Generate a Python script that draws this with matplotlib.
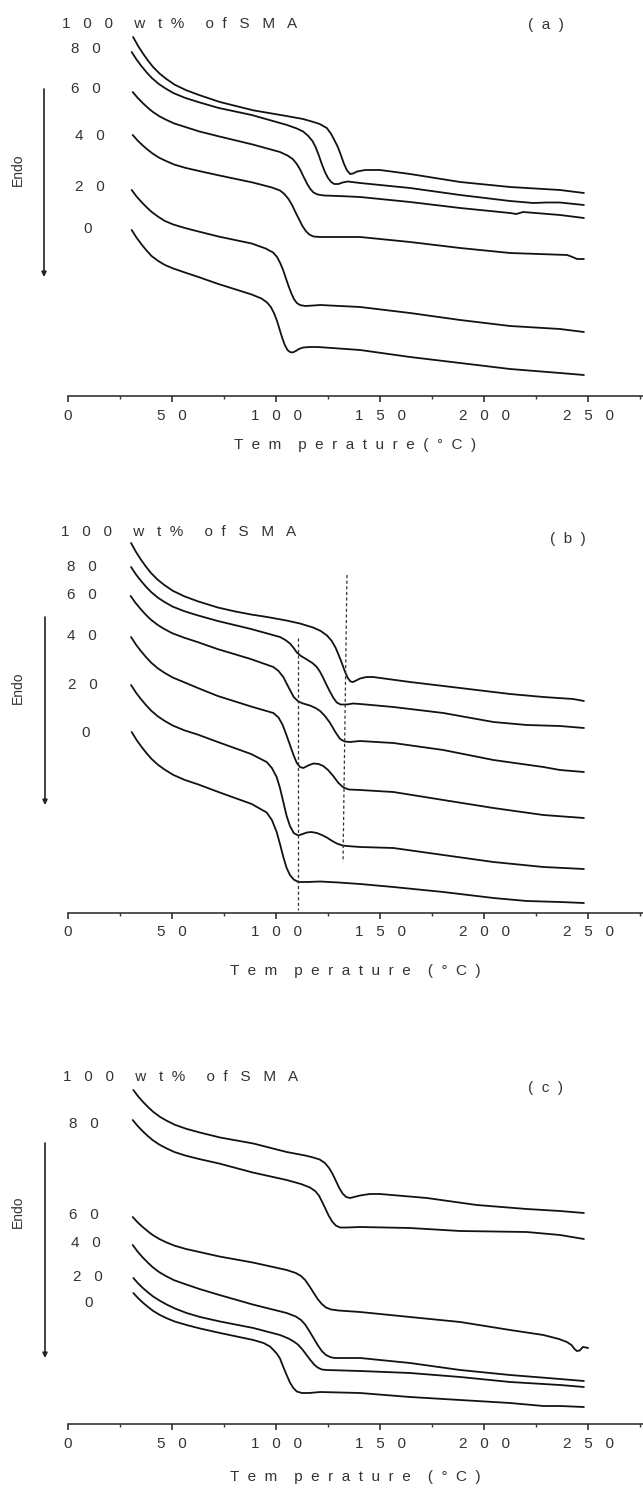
import matplotlib
matplotlib.use("Agg")
import matplotlib.pyplot as plt
from matplotlib.ticker import FixedLocator, MultipleLocator
from matplotlib.patches import FancyArrowPatch

plt.rcParams['font.family'] = ['Liberation Sans', 'DejaVu Sans']

# ---------------- data (temperature in deg C, heat flow in arbitrary units) ----------------
xtick_values = [0, 50, 100, 150, 200, 250]
xtick_labels = ['0', '5   0', '1   0   0', '1   5   0', '2   0   0', '2   5   0']
curve_labels = ['8   0', '6   0', '4   0', '2   0', '0']
title_text = '1   0   0     w   t  %     o  f   S   M   A'

# panel (a)
Ta100 = [31.3, 33.7, 36.1, 38.5, 40.9, 44.1, 47.3, 51.3, 56.9, 63.4, 73.0, 89.0, 105, 113, 118, 121, 124.4, 126.5, 128, 129.5, 131, 132.5, 134, 135.6, 137, 139, 142.8, 150, 164.4, 188.5, 212.5, 236.5, 248]
Ya100 = [35.9, 35.0, 34.23, 33.53, 32.9, 32.23, 31.7, 31.13, 30.57, 30.07, 29.4, 28.57, 28.0, 27.7, 27.4, 27.2, 26.8, 26.2, 25.6, 25.0, 24.2, 23.3, 22.6, 22.2, 22.25, 22.45, 22.6, 22.6, 22.2, 21.4, 20.9, 20.6, 20.3]
Ta80 = [30.6, 33.0, 35.4, 37.8, 40.2, 43.4, 46.6, 50.6, 56.2, 62.7, 72.3, 88.3, 105.3, 110, 113, 115.5, 117.5, 119, 120.5, 122, 123.5, 125, 126.5, 128, 130, 132, 134.5, 140.4, 164.4, 188.5, 212.5, 223.6, 230, 236.5, 248]
Ya80 = [34.4, 33.63, 32.96, 32.36, 31.82, 31.24, 30.79, 30.3, 29.82, 29.39, 28.81, 28.1, 27.1, 26.75, 26.45, 26.0, 25.5, 24.9, 24.1, 23.2, 22.4, 21.8, 21.4, 21.2, 21.2, 21.35, 21.45, 21.3, 20.8, 20.1, 19.5, 19.3, 19.35, 19.35, 19.1]
Ta60 = [31.1, 33.5, 35.9, 38.3, 40.7, 43.9, 47.1, 51.1, 56.7, 63.2, 72.8, 88.8, 101.9, 105.5, 108, 110, 111.7, 113.3, 115, 116.5, 118, 120, 123, 130, 140.4, 164.4, 188.5, 212.5, 215.5, 218.8, 236.5, 248]
Ya60 = [30.4, 29.81, 29.3, 28.84, 28.42, 27.98, 27.63, 27.25, 26.88, 26.45, 25.95, 25.15, 24.4, 24.05, 23.7, 23.2, 22.6, 21.9, 21.2, 20.7, 20.35, 20.15, 20.05, 20.0, 19.9, 19.4, 18.8, 18.3, 18.2, 18.4, 18.1, 17.8]
Ta40 = [31.1, 33.5, 35.9, 38.3, 40.7, 43.9, 47.1, 51.1, 56.7, 63.2, 72.8, 88.8, 98, 101.9, 104, 106, 107.7, 109.3, 111, 112.7, 114.3, 116, 118, 121.2, 130, 140.4, 164.4, 188.5, 212.5, 239.9, 242.5, 244.7, 248]
Ya40 = [26.1, 25.54, 25.06, 24.63, 24.24, 23.82, 23.5, 23.14, 22.8, 22.49, 22.05, 21.35, 20.85, 20.55, 20.2, 19.7, 19.1, 18.4, 17.7, 17.0, 16.5, 16.15, 15.95, 15.9, 15.9, 15.9, 15.4, 14.8, 14.3, 14.1, 13.9, 13.7, 13.7]
Ta20 = [30.6, 33.0, 35.4, 37.8, 40.2, 43.4, 46.6, 50.6, 56.2, 62.7, 72.3, 88.3, 95, 98.6, 100.5, 102, 103.4, 104.7, 106, 107.3, 108.6, 110, 111.5, 114, 118, 121.2, 140.4, 164.4, 188.5, 212.5, 236.5, 248]
Ya20 = [20.6, 19.94, 19.38, 18.87, 18.41, 17.92, 17.5, 17.15, 16.8, 16.45, 15.95, 15.25, 14.75, 14.35, 13.9, 13.3, 12.6, 11.8, 11.0, 10.3, 9.7, 9.3, 9.1, 9.0, 9.05, 9.1, 8.9, 8.3, 7.6, 7.0, 6.7, 6.4]
Ta0 = [30.6, 33.0, 35.4, 37.8, 40.2, 43.4, 46.6, 50.6, 56.2, 62.7, 72.3, 88.3, 93, 95.7, 97.5, 99, 100.5, 101.8, 103, 104.2, 105.5, 106.7, 108, 109.5, 111, 113, 116.3, 120, 140.4, 164.4, 188.5, 212.5, 236.5, 248]
Ya0 = [16.6, 15.82, 15.15, 14.54, 13.99, 13.5, 13.1, 12.75, 12.35, 11.9, 11.2, 10.15, 9.75, 9.35, 8.9, 8.3, 7.5, 6.6, 5.8, 5.1, 4.6, 4.4, 4.35, 4.5, 4.7, 4.85, 4.9, 4.9, 4.6, 3.9, 3.3, 2.7, 2.3, 2.1]

# panel (b)
Tb100 = [30.3, 32.7, 35.1, 37.5, 39.9, 43.1, 46.3, 50.3, 55.9, 62.4, 72.0, 80.0, 88.0, 95.7, 105, 111.5, 117.8, 121.5, 124.5, 126.8, 128.7, 130.3, 131.8, 133.2, 134.5, 135.8, 137, 138.5, 140.4, 143.5, 146.6, 164.4, 188.5, 212.5, 228.5, 242.8, 248]
Yb100 = [37.0, 36.1, 35.33, 34.63, 34.0, 33.33, 32.8, 32.23, 31.67, 31.17, 30.55, 30.17, 29.85, 29.6, 29.25, 28.95, 28.55, 28.2, 27.75, 27.2, 26.5, 25.7, 24.9, 24.1, 23.5, 23.15, 23.1, 23.25, 23.45, 23.6, 23.6, 23.1, 22.5, 21.9, 21.6, 21.4, 21.2]
Tb80 = [30.3, 32.7, 35.1, 37.5, 39.9, 43.1, 46.3, 50.3, 55.9, 62.4, 72.0, 88.0, 101.9, 104.5, 106.7, 108.5, 110, 112, 114.8, 117.5, 119.6, 121.2, 122.7, 124.3, 126, 127.6, 129.2, 131, 134, 137, 140.4, 156.4, 180.4, 204.5, 220.5, 236.5, 248]
Yb80 = [34.6, 33.85, 33.21, 32.63, 32.11, 31.55, 31.11, 30.64, 30.18, 29.76, 29.2, 28.4, 27.6, 27.3, 26.95, 26.5, 26.05, 25.7, 25.35, 25.0, 24.6, 24.1, 23.5, 22.8, 22.1, 21.5, 21.05, 20.85, 20.85, 20.95, 20.9, 20.6, 20.0, 19.1, 18.8, 18.7, 18.5]
Tb60 = [30.1, 32.5, 34.9, 37.3, 39.7, 42.9, 46.1, 50.1, 55.7, 62.2, 71.8, 87.8, 98.7, 101.2, 103.5, 105.2, 106.7, 108.5, 110.7, 113, 116.3, 119, 121.2, 123.5, 126, 128.5, 130.8, 133, 135.6, 140.4, 156.4, 180.4, 204.5, 228.5, 236.5, 248]
Yb60 = [31.7, 31.0, 30.4, 29.85, 29.36, 28.84, 28.42, 27.98, 27.54, 27.1, 26.4, 25.4, 24.6, 24.2, 23.6, 22.9, 22.3, 21.6, 21.15, 20.95, 20.75, 20.5, 20.2, 19.7, 19.0, 18.1, 17.4, 17.15, 17.1, 17.2, 17.0, 16.3, 15.3, 14.6, 14.3, 14.1]
Tb40 = [30.3, 32.7, 35.1, 37.5, 39.9, 43.1, 46.3, 50.3, 55.9, 62.4, 72.0, 88.0, 98.7, 101.2, 103.2, 105, 106.7, 108.4, 110, 111.5, 113.1, 115.5, 117.9, 120.5, 122.7, 125, 127.5, 130, 132.4, 135, 140.4, 156.4, 180.4, 204.5, 228.5, 248]
Yb40 = [27.6, 26.83, 26.18, 25.59, 25.05, 24.48, 24.03, 23.55, 23.07, 22.5, 21.7, 20.65, 20.0, 19.55, 18.8, 17.8, 16.8, 15.8, 15.0, 14.6, 14.5, 14.75, 14.95, 14.9, 14.7, 14.3, 13.7, 13.0, 12.55, 12.35, 12.3, 12.1, 11.3, 10.5, 9.8, 9.5]
Tb20 = [30.3, 32.7, 35.1, 37.5, 39.9, 43.1, 46.3, 50.3, 55.9, 62.4, 72.0, 88.0, 95.5, 98, 100.3, 101.9, 103.5, 105.1, 106.7, 108.5, 110.7, 112.8, 114.8, 117, 119.6, 122, 124.4, 127, 129.2, 132, 134.0, 140.4, 156.4, 180.4, 204.5, 228.5, 248]
Yb20 = [22.8, 22.03, 21.38, 20.79, 20.25, 19.68, 19.23, 18.75, 18.27, 17.84, 17.1, 15.9, 15.1, 14.5, 13.6, 12.5, 11.1, 9.7, 8.7, 8.0, 7.75, 7.9, 8.05, 8.1, 8.0, 7.8, 7.55, 7.2, 6.95, 6.75, 6.7, 6.6, 6.5, 5.8, 5.1, 4.6, 4.4]
Tb0 = [30.6, 33.0, 35.4, 37.8, 40.2, 43.4, 46.6, 50.6, 56.2, 62.7, 72.3, 88.3, 95.5, 98, 100.3, 101.9, 103.5, 105.1, 106.7, 108.5, 110.7, 115, 121.2, 130, 140.4, 156.4, 180.4, 204.5, 220.5, 236.5, 248]
Yb0 = [18.1, 17.29, 16.6, 15.97, 15.4, 14.8, 14.32, 13.81, 13.3, 12.85, 12.1, 10.9, 10.05, 9.3, 8.1, 6.9, 5.6, 4.5, 3.8, 3.35, 3.1, 3.1, 3.15, 3.05, 2.9, 2.6, 2.1, 1.5, 1.2, 1.1, 1.0]
# dashed guide lines in panel (b): [T_top, Y_top, T_bottom, Y_bottom]
guide1 = [110.4, 27.5, 110.4, 0.3]
guide2 = [134.1, 33.8, 132.2, 5.1]

# panel (c)
Tc100 = [31.4, 33.8, 36.2, 38.6, 41.0, 44.2, 47.4, 51.4, 57.0, 63.5, 73.1, 89.1, 105.1, 114, 117.9, 121, 123.5, 125.5, 127.2, 128.8, 130.4, 132, 133.7, 135.6, 137.5, 140.4, 145, 150, 172.5, 196.5, 220.5, 236.5, 248]
Yc100 = [33.4, 32.74, 32.18, 31.67, 31.21, 30.72, 30.33, 29.92, 29.51, 29.14, 28.65, 28.05, 27.2, 26.85, 26.65, 26.45, 26.1, 25.6, 25.0, 24.3, 23.6, 23.05, 22.7, 22.6, 22.7, 22.85, 23.0, 23.0, 22.6, 21.9, 21.5, 21.3, 21.1]
Tc80 = [31.1, 33.5, 35.9, 38.3, 40.7, 43.9, 47.1, 51.1, 56.7, 63.2, 72.8, 88.8, 105.1, 112, 116.3, 118.8, 120.6, 122.2, 123.8, 125.4, 127, 128.7, 130.8, 134, 140.4, 164.4, 188.5, 220.5, 236.5, 248]
Yc80 = [30.4, 29.8, 29.28, 28.81, 28.39, 27.94, 27.59, 27.2, 26.83, 26.49, 26.04, 25.15, 24.4, 24.0, 23.65, 23.3, 22.85, 22.2, 21.5, 20.8, 20.25, 19.85, 19.65, 19.65, 19.7, 19.6, 19.3, 19.2, 18.9, 18.5]
Tc60 = [31.1, 33.5, 35.9, 38.3, 40.7, 43.9, 47.1, 51.1, 56.7, 63.2, 72.8, 88.8, 105.1, 109.5, 112, 114, 116, 118, 120, 122, 124, 126.5, 130, 140.4, 164.4, 188.5, 212.5, 228.5, 236, 239.8, 242, 243.5, 244.6, 246, 247.5, 249, 250]
Yc60 = [20.7, 20.16, 19.7, 19.28, 18.9, 18.5, 18.18, 17.84, 17.5, 17.2, 16.75, 16.15, 15.4, 15.1, 14.8, 14.4, 13.8, 13.15, 12.5, 12.0, 11.65, 11.45, 11.35, 11.2, 10.7, 10.2, 9.4, 8.9, 8.5, 8.2, 7.9, 7.5, 7.3, 7.35, 7.7, 7.65, 7.6]
Tc40 = [31.1, 33.5, 35.9, 38.3, 40.7, 43.9, 47.1, 51.1, 56.7, 63.2, 72.8, 88.8, 105.1, 109.5, 112, 114, 116, 118, 120, 122, 124, 126, 128, 140.4, 164.4, 188.5, 212.5, 236.5, 248]
Yc40 = [17.9, 17.23, 16.66, 16.15, 15.68, 15.18, 14.79, 14.37, 13.96, 13.5, 12.9, 11.95, 11.1, 10.75, 10.4, 9.95, 9.3, 8.6, 7.9, 7.3, 6.9, 6.7, 6.6, 6.6, 6.1, 5.4, 4.9, 4.5, 4.3]
Tc20 = [31.4, 33.8, 36.2, 38.6, 41.0, 44.2, 47.4, 51.4, 57.0, 63.5, 73.1, 89.1, 101.9, 106, 108.5, 110.5, 112.5, 114.5, 116.5, 118.3, 120, 122, 124.4, 140.4, 164.4, 188.5, 212.5, 236.5, 248]
Yc20 = [14.6, 14.04, 13.56, 13.13, 12.74, 12.32, 11.95, 11.55, 11.1, 10.7, 10.25, 9.6, 8.9, 8.55, 8.25, 7.95, 7.5, 6.95, 6.4, 5.95, 5.65, 5.45, 5.4, 5.3, 5.1, 4.7, 4.2, 3.9, 3.7]
Tc0 = [31.4, 33.8, 36.2, 38.6, 41.0, 44.2, 47.4, 51.4, 57.0, 63.5, 73.1, 89.1, 94, 97.1, 99, 100.5, 101.9, 103.5, 105.1, 106.7, 108.3, 110, 112.4, 116, 121.2, 140.4, 164.4, 188.5, 212.5, 228.5, 236.5, 248]
Yc0 = [13.1, 12.56, 12.1, 11.68, 11.3, 10.9, 10.58, 10.24, 9.9, 9.55, 9.1, 8.4, 8.1, 7.75, 7.35, 7.0, 6.55, 5.7, 4.9, 4.15, 3.6, 3.25, 3.1, 3.1, 3.2, 3.1, 2.7, 2.4, 2.1, 1.8, 1.8, 1.7]

# ---------------- layout ----------------
W, H, DPI = 643, 1488, 100
fig = plt.figure(figsize=(W / DPI, H / DPI), dpi=DPI)
fig.patch.set_facecolor('white')

TXT = '#333333'
LINE = '#121212'


def fx(px):
    return px / W


def fy(py):
    return 1 - py / H


panels = [
    dict(letter='(  a  )', axis_py=396,
         curves=[(Ta100, Ya100), (Ta80, Ya80), (Ta60, Ya60), (Ta40, Ya40), (Ta20, Ya20), (Ta0, Ya0)],
         xlabel='T  e  m    p  e  r  a  t  u  r  e  (  °  C  )', labelpad=11,
         title_xy=(62, 24), letter_xy=(546, 25),
         lab_xy=[(86, 49), (86, 89), (90, 136), (90, 187), (88, 229)],
         endo_xy=(18, 170), arrow=(44, 89, 277)),
    dict(letter='(  b  )', axis_py=913,
         curves=[(Tb100, Yb100), (Tb80, Yb80), (Tb60, Yb60), (Tb40, Yb40), (Tb20, Yb20), (Tb0, Yb0)],
         xlabel='T  e  m    p  e  r  a  t  u  r  e    (  °  C  )', labelpad=18,
         title_xy=(61, 532), letter_xy=(568, 539),
         lab_xy=[(82, 567), (82, 595), (82, 636), (83, 685), (86, 733)],
         endo_xy=(18, 688), arrow=(45, 617, 805)),
    dict(letter='(  c  )', axis_py=1424,
         curves=[(Tc100, Yc100), (Tc80, Yc80), (Tc60, Yc60), (Tc40, Yc40), (Tc20, Yc20), (Tc0, Yc0)],
         xlabel='T  e  m    p  e  r  a  t  u  r  e    (  °  C  )', labelpad=14,
         title_xy=(63, 1077), letter_xy=(546, 1088),
         lab_xy=[(84, 1124), (84, 1215), (86, 1243), (88, 1277), (89, 1303)],
         endo_xy=(18, 1212), arrow=(45, 1143, 1358)),
]

for i, p in enumerate(panels):
    ax = fig.add_axes([fx(68), fy(p['axis_py']), fx(643) - fx(68), 385 / H])
    ax.set_xlim(0, 276.4)
    ax.set_ylim(0, 38.5)
    for T, Y in p['curves']:
        ax.plot(T, Y, color=LINE, lw=1.3, solid_joinstyle='round', solid_capstyle='round')
    if i == 1:
        for g in (guide1, guide2):
            ax.plot([g[0], g[2]], [g[1], g[3]], color='#333333', lw=0.9, ls=(0, (2.5, 2)))
    for s in ('left', 'right', 'top'):
        ax.spines[s].set_visible(False)
    ax.spines['bottom'].set_color('#333333')
    ax.spines['bottom'].set_linewidth(1.2)
    ax.yaxis.set_visible(False)
    ax.xaxis.set_major_locator(FixedLocator(xtick_values))
    ax.set_xticklabels(xtick_labels)
    ax.xaxis.set_minor_locator(MultipleLocator(25))
    ax.tick_params(axis='x', which='major', direction='out', length=4, width=1.2, color='#333333',
                   labelsize=11, labelcolor=TXT, pad=5)
    ax.tick_params(axis='x', which='minor', direction='out', length=2.5, width=1.0, color='#333333')
    ax.set_xlabel(p['xlabel'], fontsize=11, color=TXT, labelpad=p['labelpad'])
    ax.patch.set_alpha(0)

    fig.text(fx(p['title_xy'][0]), fy(p['title_xy'][1]), title_text, fontsize=11, color=TXT,
             ha='left', va='center')
    fig.text(fx(p['letter_xy'][0]), fy(p['letter_xy'][1]), p['letter'], fontsize=11,
             color=TXT, ha='center', va='center')
    for lab, (lx, ly) in zip(curve_labels, p['lab_xy']):
        fig.text(fx(lx), fy(ly), lab, fontsize=11, color=TXT, ha='center', va='center')
    fig.text(fx(p['endo_xy'][0]), fy(p['endo_xy'][1]), 'Endo', fontsize=10, color=TXT,
             rotation=90, ha='center', va='center')
    axx, ay0, ay1 = p['arrow']
    fig.add_artist(FancyArrowPatch((fx(axx), fy(ay0)), (fx(axx), fy(ay1)), transform=fig.transFigure,
                                   arrowstyle='-|>', mutation_scale=7, lw=1.2, color='#222222',
                                   shrinkA=0, shrinkB=0))

fig.savefig('out.png', dpi=DPI, facecolor='white')
